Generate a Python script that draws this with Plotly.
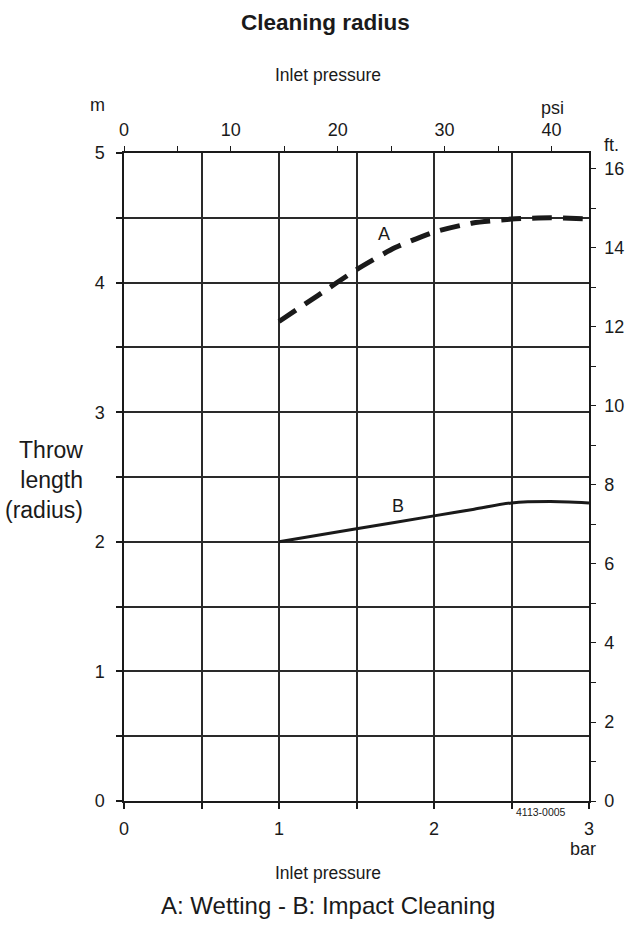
import plotly.graph_objects as go

# ---- data ----
bar_A = [1.0, 1.25, 1.5, 1.75, 2.0, 2.25, 2.5, 2.75, 3.0]
m_A = [3.70, 3.90, 4.10, 4.27, 4.39, 4.46, 4.49, 4.50, 4.49]
bar_B = [1.0, 1.5, 2.0, 2.25, 2.5, 2.75, 3.0]
m_B = [2.00, 2.10, 2.20, 2.25, 2.30, 2.31, 2.30]
bar_ticks = [0, 1, 2, 3]
m_ticks = [0, 1, 2, 3, 4, 5]
BAR_MAX = 3.0
M_MAX = 5.0
PSI_PER_BAR = 14.5038
FT_PER_M = 3.28084

FONT = "Liberation Sans, Arial, sans-serif"
INK = "#1a1a1a"
GRID = "#2a2a2a"

fig = go.Figure()
fig.add_trace(go.Scatter(x=bar_A, y=m_A, mode="lines", line=dict(color=INK, width=5, dash="20px,11px", shape="spline", smoothing=0.6), showlegend=False, hoverinfo="skip"))
fig.add_trace(go.Scatter(x=bar_B, y=m_B, mode="lines", line=dict(color=INK, width=3, shape="spline", smoothing=0.6), showlegend=False, hoverinfo="skip"))
# invisible traces to activate the secondary axes
fig.add_trace(go.Scatter(x=[0], y=[0], xaxis="x2", yaxis="y", mode="markers", marker=dict(opacity=0), showlegend=False, hoverinfo="skip"))
fig.add_trace(go.Scatter(x=[0], y=[0], xaxis="x", yaxis="y2", mode="markers", marker=dict(opacity=0), showlegend=False, hoverinfo="skip"))

tickfont = dict(family=FONT, size=18, color=INK)

fig.update_layout(
    width=631, height=927,
    margin=dict(l=124, r=41.5, t=153, b=126),
    paper_bgcolor="white", plot_bgcolor="white",
    font=dict(family=FONT, color=INK),
    xaxis=dict(range=[0, BAR_MAX], tickvals=bar_ticks, ticks="outside", ticklen=6, tickwidth=1.5, tickcolor=INK,
               showgrid=True, gridcolor=GRID, gridwidth=1.5, zeroline=False, automargin=False,
               showline=True, linecolor=INK, linewidth=1.5, tickfont=tickfont, ticklabelstandoff=5,
               minor=dict(dtick=0.5, ticks="outside", ticklen=6, tickwidth=1.5, tickcolor=INK, showgrid=True, gridcolor=GRID, gridwidth=1.5)),
    xaxis2=dict(range=[0, BAR_MAX * PSI_PER_BAR], overlaying="x", side="top", tick0=0, dtick=10, ticks="outside", ticklen=5,
                tickwidth=1.2, tickcolor=INK, showgrid=False, zeroline=False, showline=True, linecolor=INK, linewidth=1.5,
                tickfont=tickfont, ticklabelstandoff=3, automargin=False,
                minor=dict(dtick=5, ticks="outside", ticklen=5, tickwidth=1.2, tickcolor=INK)),
    yaxis=dict(range=[0, M_MAX], tickvals=m_ticks, ticks="outside", ticklen=6, tickwidth=1.5, tickcolor=INK,
               showgrid=True, gridcolor=GRID, gridwidth=1.5, zeroline=False, automargin=False,
               showline=True, linecolor=INK, linewidth=1.5, tickfont=tickfont, ticklabelstandoff=8,
               minor=dict(dtick=0.5, ticks="outside", ticklen=6, tickwidth=1.5, tickcolor=INK, showgrid=True, gridcolor=GRID, gridwidth=1.5)),
    yaxis2=dict(range=[0, M_MAX * FT_PER_M], overlaying="y", side="right", tick0=0, dtick=2, ticks="outside", ticklen=5,
                tickwidth=1.2, tickcolor=INK, showgrid=False, zeroline=False, showline=True, linecolor=INK, linewidth=1.5,
                tickfont=tickfont, ticklabelstandoff=5, automargin=False,
                minor=dict(dtick=1, ticks="outside", ticklen=5, tickwidth=1.2, tickcolor=INK)),
)

def ann(text, x, y, size, xref="paper", yref="paper", xanchor="center", align="center", bold=False):
    fig.add_annotation(text=f"<b>{text}</b>" if bold else text, x=x, y=y, xref=xref, yref=yref, showarrow=False,
                       xanchor=xanchor, yanchor="middle", align=align,
                       font=dict(family=FONT, size=size, color=INK))

ann("Cleaning radius", 0.434, 1.202, 22.5, bold=True)
ann("Inlet pressure", 0.438, 1.120, 17.5)
ann("m", -0.058, 1.074, 18)
ann("psi", 0.9216, 1.069, 18)
ann("ft.", 1.048, 1.012, 18)
ann("bar", 0.988, -0.074, 18)
ann("Inlet pressure", 0.438, -0.111, 17.5)
ann("A: Wetting - B: Impact Cleaning", 0.438, -0.162, 24)
ann("Throw<br>length<br>(radius)", -0.0838, 0.495, 23, xanchor="right", align="right")
ann("A", 1.68, 4.375, 18, xref="x", yref="y")
ann("B", 1.77, 2.28, 18, xref="x", yref="y")
ann("4113-0005", 0.896, -0.017, 10.5)

fig.write_html("out.html", config={"displayModeBar": False},
               post_script="document.body.style.margin='0';document.body.style.padding='0';")
